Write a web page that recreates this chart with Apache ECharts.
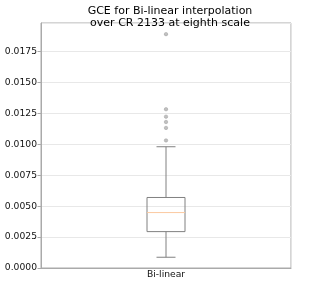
<!DOCTYPE html>
<html><head><meta charset="utf-8">
<script src="https://cdn.jsdelivr.net/npm/echarts@6/dist/echarts.min.js"></script>
<style>html,body{margin:0;padding:0;background:#fff}#c{width:323px;height:283px}</style>
</head><body><div id="c"></div>
<script>
var categories = ['Bi-linear'];
// [whiskerLow, Q1, median, Q3, whiskerHigh]
var boxStats = [[0.00087, 0.00294, 0.00448, 0.00570, 0.00980]];
var outliers = [0.01890, 0.01283, 0.01223, 0.01180, 0.01132, 0.01031];
var yTicks = [0, 0.0025, 0.005, 0.0075, 0.01, 0.0125, 0.015, 0.0175];
var titleText = 'GCE for Bi-linear interpolation\nover CR 2133 at eighth scale';

var chart = echarts.init(document.getElementById('c'), null, {renderer: 'canvas'});
var font = 'DejaVu Sans';
var boxData = boxStats.map(function (s, i) { return [i].concat(s); });
var outlierData = [];
categories.forEach(function (c, i) { outliers.forEach(function (v) { outlierData.push([i, v]); }); });

chart.setOption({
  animation: false,
  title: {
    text: titleText, left: 165, textAlign: 'center', top: 0,
    textStyle: {fontFamily: font, fontSize: 11, fontWeight: 'normal', color: '#000', lineHeight: 12}
  },
  grid: {left: 41, right: 32, top: 23, bottom: 15, show: true, borderColor: '#aaaaaa', borderWidth: 1},
  xAxis: {
    type: 'category', data: categories, boundaryGap: true,
    axisLine: {lineStyle: {color: '#aaaaaa'}},
    axisTick: {show: false},
    splitLine: {show: true, interval: 0, lineStyle: {color: '#e3e3e3'}},
    axisLabel: {fontFamily: font, fontSize: 9.2, color: '#111', margin: 2}
  },
  yAxis: {
    type: 'value', min: 0, max: 0.0198, interval: 0.0025,
    axisLine: {show: true, lineStyle: {color: '#aaaaaa'}},
    axisTick: {show: true, length: 3.5, lineStyle: {color: '#aaaaaa'}},
    splitLine: {lineStyle: {color: '#e8e8e8'}},
    axisLabel: {fontFamily: font, fontSize: 9.2, color: '#111', margin: 4,
      formatter: function (v) { return v.toFixed(4); },
      showMaxLabel: false}
  },
  series: [{
    type: 'custom',
    data: boxData,
    encode: {x: 0, y: [1, 2, 3, 4, 5]},
    renderItem: function (params, api) {
      var i = api.value(0);
      var c = api.coord([i, 0]);
      var x = c[0];
      var yLo = api.coord([i, api.value(1)])[1];
      var yQ1 = api.coord([i, api.value(2)])[1];
      var yMed = api.coord([i, api.value(3)])[1];
      var yQ3 = api.coord([i, api.value(4)])[1];
      var yHi = api.coord([i, api.value(5)])[1];
      var bw = 19, cw = 9.5;
      var st = {stroke: '#808080', lineWidth: 1, fill: null};
      return {type: 'group', children: [
        {type: 'line', shape: {x1: x, y1: yLo, x2: x, y2: yQ1}, style: st},
        {type: 'line', shape: {x1: x, y1: yQ3, x2: x, y2: yHi}, style: st},
        {type: 'line', shape: {x1: x - cw, y1: yLo, x2: x + cw, y2: yLo}, style: st},
        {type: 'line', shape: {x1: x - cw, y1: yHi, x2: x + cw, y2: yHi}, style: st},
        {type: 'rect', shape: {x: x - bw, y: yQ3, width: 2 * bw, height: yQ1 - yQ3}, style: {stroke: '#808080', lineWidth: 1, fill: 'rgba(255,255,255,0)'}},
        {type: 'line', shape: {x1: x - bw, y1: yMed, x2: x + bw, y2: yMed}, style: {stroke: '#fbc9a0', lineWidth: 1}}
      ]};
    },
    z: 3
  }, {
    type: 'scatter', data: outlierData, symbol: 'circle', symbolSize: 3.5,
    itemStyle: {color: '#b0b0b0', borderColor: '#909090', borderWidth: 0.5}, z: 4
  }]
});
</script></body></html>
